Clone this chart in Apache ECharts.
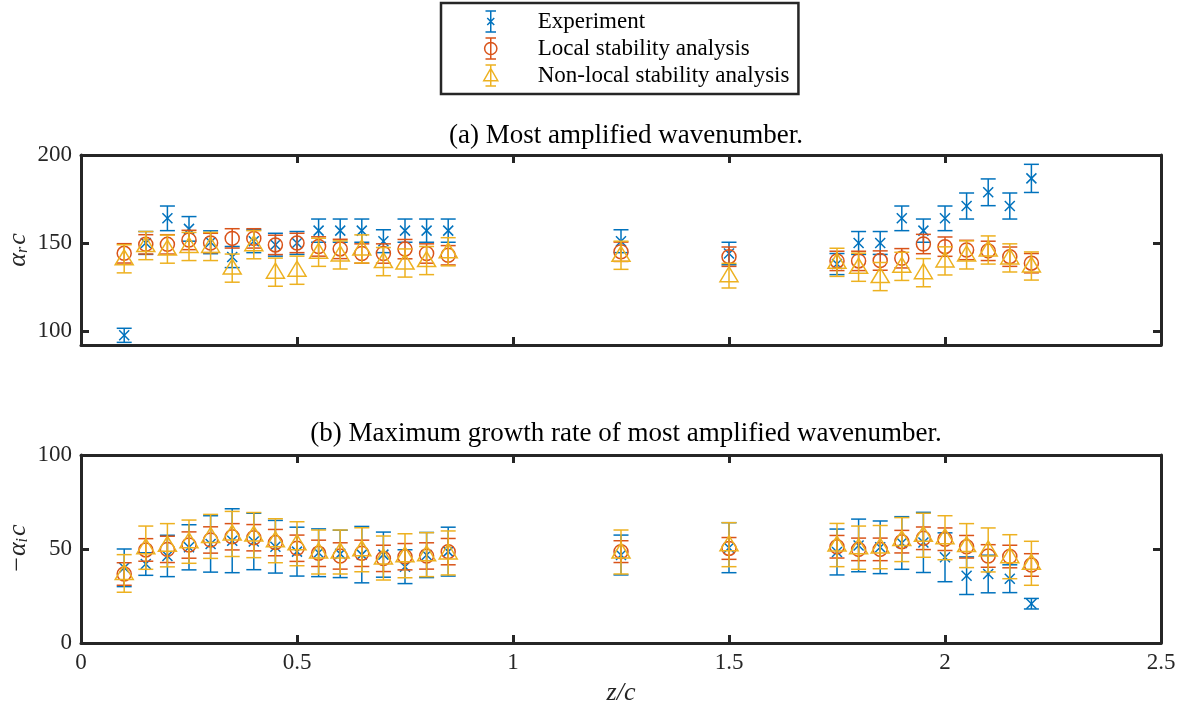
<!DOCTYPE html>
<html><head><meta charset="utf-8">
<script src="https://cdn.jsdelivr.net/npm/echarts@6/dist/echarts.min.js"></script>
<style>html,body{margin:0;padding:0;background:#fff}#c{width:1181px;height:711px}</style>
</head><body><div id="c"></div>
<script>
// ---------- data ----------
var zPos = [0.10,0.15,0.20,0.25,0.30,0.35,0.40,0.45,0.50,0.55,0.60,0.65,0.70,0.75,0.80,0.85,
            1.25,1.50,
            1.75,1.80,1.85,1.90,1.95,2.00,2.05,2.10,2.15,2.20];
var seriesNames = ['Experiment','Local stability analysis','Non-local stability analysis'];
var xTicks = [0,0.5,1,1.5,2,2.5];
var yTicksA = [100,150,200];
var yTicksB = [0,50,100];

// (a) most amplified wavenumber  alpha_r c
var expA    = [97.5,150,164,158,150.4,142,151,149,150,157,157,157,151,157,157,157, 151,144, 138,150,150,164,157,164,171,178.8,171,186.7];
var expAErr = [4,6.5,7,7,6.5,6,6.5,6.5,6.5,6.6,6.6,6.6,6.5,6.6,6.6,6.6, 6.5,6.4, 6,6.5,6.5,7,6.6,7,7.4,7.6,7.4,8];
var locA    = [144.1,149.2,149.2,151.7,150,152.6,152.6,148.9,150,148,146.6,144,144,146.5,144,143, 145,142.2, 139.8,139.8,140,141.3,149.4,147.9,146,145.5,142.2,138.5];
var locAErr = [5.5,5.5,5.5,5.5,5.5,5.5,5.5,5.5,5.5,5.5,5.5,5.5,5.5,5.5,5.5,5.5, 5.5,5.5, 5.5,5.5,5.5,5.5,5.5,5.5,5.5,5.5,5.5,5.5];
var nonA    = [141,148.5,146.5,148,148,135.7,149,133.4,134.5,144.7,143.2,146.6,139.4,138.6,140,145, 143,131.4, 139,136.2,130.9,136.7,133.1,139.8,143.2,146,141.5,136.9];
var nonAErr = [8,8,8,8,8,8,8,8,8,8,8,8,8,8,8,8, 8,7, 8,8,8,8,8,8,8,8,8,8];

// (b) maximum growth rate  -alpha_i c
var expB    = [40,42,46.3,50.9,52.7,54.4,54,51.2,48.6,48,47.4,47,47,40.6,46.8,48.6, 46.8,50.7, 48.4,51.9,50.9,53.2,53.5,45.6,35.8,36.7,34.2,20.9];
var expBErr = [10,6,11,12,15,17,15,14,13,12.7,12.6,15,12,9,12,13, 10.6,13.3, 12.2,14,14,14,16,13,10,10,7.4,2.8];
var locB    = [36.7,49.5,49.8,52.1,54.8,56.5,56,53.4,50.4,47.7,46.3,47.7,45,45.9,46.3,48.6, 48.6,50.3, 51.2,49.8,49.8,53.9,55.7,55.2,51.2,46.3,46,41.5];
var locBErr = [6,6,7,7,7,7,7,7,7,7,7,7,7,7,7,7, 5.8,5.8, 6,6,6,6,6,6,6,6,6,6];
var nonB    = [37,50.7,52,53.9,56.7,58,57.4,54.4,52.8,48.4,48.4,49.6,45.2,46.4,47,47.9, 48.4,52.3, 52.1,50.7,51,55,57.3,56,51.8,49.5,45.9,42.4];
var nonBErr = [10,11.5,11.5,11.5,11.7,12,12,11.7,11.7,11.7,11.7,11.7,11.7,11.7,11.7,11.7, 11.7,11.7, 11.5,11.5,11.5,11.7,11.7,11.7,11.7,11.7,11.7,11.7];

var colors = ['#0072BD','#D95319','#EDB120'];
var ink = '#262626';
var FONT = 'Liberation Serif';

function rows(ys, es){ return zPos.map(function(z,i){ return [z, ys[i], es[i]]; }); }

function makeRender(color, kind){
  return function(params, api){
    var x = api.value(0), y = api.value(1), e = api.value(2);
    var lo = api.coord([x, y - e]), hi = api.coord([x, y + e]), c = api.coord([x, y]);
    var cw = 7.5;
    var st = {stroke: color, lineWidth: 1.5, fill: null};
    var ch = [
      {type:'line', shape:{x1:lo[0],y1:lo[1],x2:hi[0],y2:hi[1]}, style:st},
      {type:'line', shape:{x1:lo[0]-cw,y1:lo[1],x2:lo[0]+cw,y2:lo[1]}, style:st},
      {type:'line', shape:{x1:hi[0]-cw,y1:hi[1],x2:hi[0]+cw,y2:hi[1]}, style:st}
    ];
    if (kind === 'x') {
      var d = 5;
      ch.push({type:'line', shape:{x1:c[0]-d,y1:c[1]-d,x2:c[0]+d,y2:c[1]+d}, style:st});
      ch.push({type:'line', shape:{x1:c[0]-d,y1:c[1]+d,x2:c[0]+d,y2:c[1]-d}, style:st});
    } else if (kind === 'o') {
      ch.push({type:'circle', shape:{cx:c[0],cy:c[1],r:7}, style:{stroke:color,lineWidth:1.5,fill:null}});
    } else {
      ch.push({type:'polygon', shape:{points:[[c[0],c[1]-9],[c[0]+9,c[1]+6],[c[0]-9,c[1]+6]]}, style:{stroke:color,lineWidth:1.5,fill:null}});
    }
    return {type:'group', children: ch};
  };
}

var kinds = ['x','o','^'];
var dataA = [rows(expA,expAErr), rows(locA,locAErr), rows(nonA,nonAErr)];
var dataB = [rows(expB,expBErr), rows(locB,locBErr), rows(nonB,nonBErr)];

var series = [];
[dataA, dataB].forEach(function(set, g){
  set.forEach(function(d, k){
    series.push({
      type:'custom', name: seriesNames[k], xAxisIndex: g*2, yAxisIndex: g*2,
      renderItem: makeRender(colors[k], kinds[k]), data: d, clip: true,
      itemStyle:{color: colors[k]}, encode:{x:0, y:1}, z: 2 + k
    });
  });
});

var icons = [
  'path://M4,0L16,0M10,0L10,24M4,24L16,24M6,8L14,16M14,8L6,16',
  'path://M4,0L16,0M10,0L10,24M4,24L16,24M3,12A7,7 0 1,0 17,12A7,7 0 1,0 3,12',
  'path://M4,0L16,0M10,0L10,24M4,24L16,24M10,4L18,18L2,18Z'
];

function xAxisCfg(grid, pos, labels){
  return {
    type:'value', gridIndex: grid, position: pos, min:0, max:2.5, interval:0.5,
    axisLine:{show:true, onZero:false, lineStyle:{color:ink, width:3}},
    axisTick:{show:true, inside:true, length:8, lineStyle:{color:ink, width:3}},
    axisLabel:{show:labels, color:ink, fontFamily:FONT, fontSize:23, margin:8},
    splitLine:{show:false}
  };
}
function yAxisCfg(grid, pos, min, max, ticks, labels, nameRich){
  var a = {
    type:'value', gridIndex: grid, position: pos, min:min, max:max,
    axisLine:{show:true, onZero:false, lineStyle:{color:ink, width:3}},
    axisTick:{show:true, inside:true, length:8, customValues: ticks, lineStyle:{color:ink, width:3}},
    axisLabel:{show:labels, customValues: ticks, color:ink, fontFamily:FONT, fontSize:23, margin:9},
    splitLine:{show:false}
  };
  if (nameRich) {
    a.name = nameRich;
    a.nameLocation = 'middle';
    a.nameRotate = 90;
    a.nameGap = 50;
    a.nameMoveOverlap = false;
    a.nameTextStyle = {
      color: ink, fontFamily: FONT, fontSize: 24, fontStyle:'italic',
      rich: {
        i:{fontFamily:FONT, fontSize:26, fontStyle:'italic', color:ink},
        n:{fontFamily:FONT, fontSize:26, color:ink},
        s:{fontFamily:FONT, fontSize:16, fontStyle:'italic', color:ink, padding:[10,2,0,0]}
      }
    };
  }
  return a;
}

var xA = xAxisCfg(0,'bottom',false), xAt = xAxisCfg(0,'top',false);
var xB = xAxisCfg(1,'bottom',true), xBt = xAxisCfg(1,'top',false);
xB.name = 'z/c'; xB.nameLocation = 'middle'; xB.nameGap = 37; xB.nameMoveOverlap = false;
xB.nameTextStyle = {color:ink, fontFamily:FONT, fontSize:26, fontStyle:'italic'};

var option = {
  animation:false,
  backgroundColor:'#ffffff',
  title:[
    {text:'(a) Most amplified wavenumber.', left:621, top:117, textAlign:'center',
     textStyle:{fontFamily:FONT, fontSize:27, fontWeight:'normal', color:'#000'}},
    {text:'(b) Maximum growth rate of most amplified wavenumber.', left:621, top:415, textAlign:'center',
     textStyle:{fontFamily:FONT, fontSize:27, fontWeight:'normal', color:'#000'}}
  ],
  legend:{
    orient:'vertical', left:441, top:3, padding:[7,9,7,42], itemGap:4,
    itemWidth:16, itemHeight:21,
    borderColor:ink, borderWidth:2.5, backgroundColor:'#fff',
    textStyle:{fontFamily:FONT, fontSize:23, color:'#000', padding:[0,0,0,34]},
    data: seriesNames.map(function(n,k){
      return {name:n, icon: icons[k], itemStyle:{color:'rgba(0,0,0,0)', borderColor:colors[k], borderWidth:1.5}};
    })
  },
  grid:[
    {left:81, right:20, top:155, height:190, outerBoundsMode:'none', containLabel:false},
    {left:81, right:20, top:455, height:188, outerBoundsMode:'none', containLabel:false}
  ],
  xAxis:[xA, xAt, xB, xBt],
  yAxis:[
    yAxisCfg(0,'left',92,200,yTicksA,true,'{i|α}{s|r}{i|c}'),
    yAxisCfg(0,'right',92,200,yTicksA,false),
    yAxisCfg(1,'left',0,100,yTicksB,true,'{n|−}{i|α}{s|i}{i|c}'),
    yAxisCfg(1,'right',0,100,yTicksB,false)
  ],
  series: series
};
var chart = echarts.init(document.getElementById('c'), null, {renderer:'canvas'});
chart.setOption(option);
</script></body></html>
